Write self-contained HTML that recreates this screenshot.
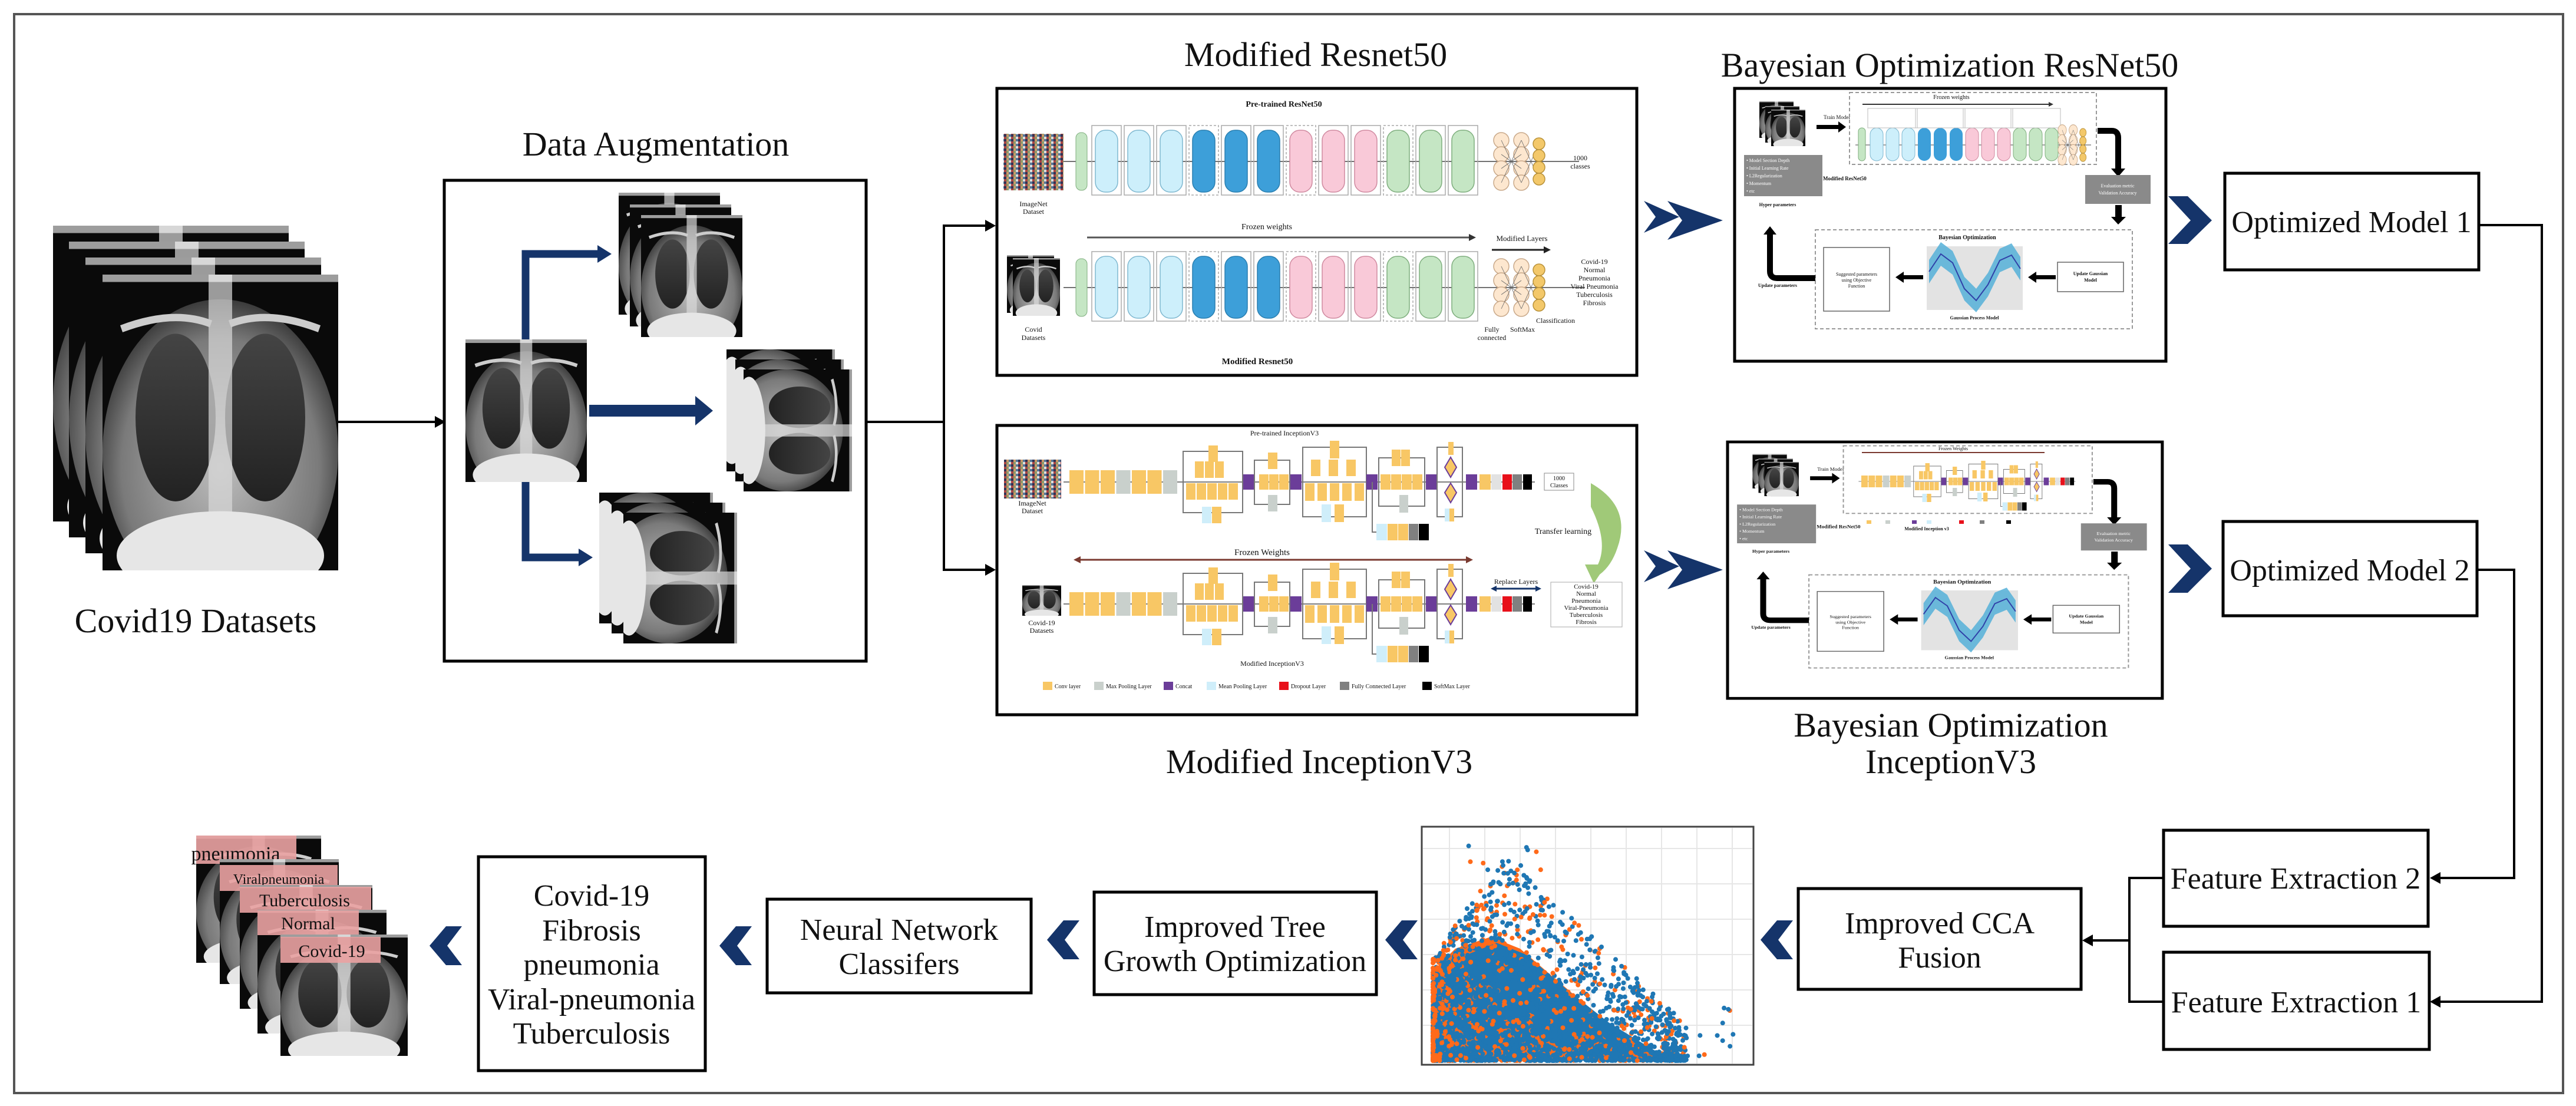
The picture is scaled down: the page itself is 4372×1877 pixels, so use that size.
<!DOCTYPE html>
<html><head><meta charset="utf-8"><style>
html,body{margin:0;padding:0;background:#fff}
svg{display:block;font-family:"Liberation Serif",serif}
text{font-family:"Liberation Serif",serif;fill:#111}
.t{font-size:58px}
.b{font-size:52px}
.s{font-size:12px}
.xs{font-size:9px}
.bd{font-weight:bold}
</style></head><body>
<svg id="sv" width="4372" height="1877" viewBox="0 0 4372 1877" xmlns="http://www.w3.org/2000/svg" font-family="Liberation Serif, serif">
<defs>
<radialGradient id="bodyg" cx="50%" cy="55%" r="60%"><stop offset="0" stop-color="#bdbdbd"/><stop offset="0.7" stop-color="#7a7a7a"/><stop offset="1" stop-color="#222"/></radialGradient>
<linearGradient id="lung" x1="0" y1="0" x2="0" y2="1"><stop offset="0" stop-color="#444"/><stop offset="1" stop-color="#222"/></linearGradient>
<symbol id="xr" viewBox="0 0 100 120" preserveAspectRatio="none">
<rect width="100" height="120" fill="#0a0a0a"/>
<ellipse cx="50" cy="72" rx="50" ry="62" fill="url(#bodyg)"/>
<ellipse cx="31" cy="58" rx="17" ry="34" fill="url(#lung)"/>
<ellipse cx="69" cy="58" rx="17" ry="34" fill="url(#lung)"/>
<rect x="45" y="0" width="10" height="120" fill="#d8d8d8" opacity="0.7"/>
<ellipse cx="50" cy="114" rx="44" ry="18" fill="#e6e6e6"/>
<path d="M8,22 Q30,14 46,20 M92,22 Q70,14 54,20" stroke="#ccc" stroke-width="3" fill="none"/>
<rect x="0" y="0" width="100" height="3" fill="#fff" opacity="0.6"/>
</symbol>
<symbol id="xrr" viewBox="0 0 120 100" preserveAspectRatio="none">
<g transform="translate(120 0) rotate(90)"><use href="#xr" width="100" height="120"/></g>
</symbol>
<pattern id="mos" width="12" height="8" patternUnits="userSpaceOnUse">
<rect width="12" height="8" fill="#6b6b5a"/><rect width="4" height="4" fill="#a44"/><rect x="4" width="4" height="4" fill="#8a9a6a"/><rect x="8" width="4" height="4" fill="#ddd"/><rect y="4" width="4" height="4" fill="#335"/><rect x="4" y="4" width="4" height="4" fill="#c96"/><rect x="8" y="4" width="4" height="4" fill="#579"/>
</pattern>
<g id="incRow">
<line x1="1805" y1="0" x2="2605" y2="0" stroke="#555" stroke-width="1.5"/>
<rect x="1815" y="-20" width="24" height="40" fill="#f8c765"/><rect x="1841.5" y="-20" width="24" height="40" fill="#f8c765"/><rect x="1868" y="-20" width="24" height="40" fill="#f8c765"/><rect x="1894.5" y="-20" width="24" height="40" fill="#c9d0cc"/><rect x="1921" y="-20" width="24" height="40" fill="#f8c765"/><rect x="1947.5" y="-20" width="24" height="40" fill="#f8c765"/><rect x="1974" y="-20" width="24" height="40" fill="#c9d0cc"/>
<rect x="2008" y="-52" width="101" height="104" fill="none" stroke="#777" stroke-width="2"/>
<rect x="2051" y="-62" width="16" height="28" fill="#f8c765"/><rect x="2028" y="-35" width="15" height="28" fill="#f8c765"/><rect x="2045" y="-35" width="15" height="28" fill="#f8c765"/><rect x="2062" y="-35" width="15" height="28" fill="#f8c765"/>
<rect x="2013" y="2" width="16" height="28" fill="#f8c765"/><rect x="2031" y="2" width="16" height="28" fill="#f8c765"/><rect x="2049" y="2" width="16" height="28" fill="#f8c765"/><rect x="2067" y="2" width="16" height="28" fill="#f8c765"/><rect x="2085" y="2" width="16" height="28" fill="#f8c765"/>
<rect x="2040" y="42" width="16" height="28" fill="#cfeefa"/><rect x="2057" y="42" width="16" height="28" fill="#f8c765"/>
<rect x="2110" y="-13" width="19" height="26" fill="#6b3d99"/>
<rect x="2129" y="-37" width="60" height="75" fill="none" stroke="#777" stroke-width="2"/>
<rect x="2152" y="-50" width="16" height="28" fill="#f8c765"/><rect x="2137" y="-13" width="16" height="26" fill="#f8c765"/><rect x="2154" y="-13" width="16" height="26" fill="#f8c765"/><rect x="2171" y="-13" width="16" height="26" fill="#f8c765"/><rect x="2152" y="22" width="16" height="28" fill="#c9d0cc"/>
<rect x="2190" y="-13" width="19" height="26" fill="#6b3d99"/>
<rect x="2211" y="-59" width="108" height="118" fill="none" stroke="#777" stroke-width="2"/>
<rect x="2257" y="-70" width="16" height="30" fill="#f8c765"/><rect x="2225" y="-38" width="16" height="28" fill="#f8c765"/><rect x="2255" y="-38" width="16" height="28" fill="#f8c765"/><rect x="2285" y="-38" width="16" height="28" fill="#f8c765"/>
<rect x="2215" y="2" width="16" height="30" fill="#f8c765"/><rect x="2236" y="2" width="16" height="30" fill="#f8c765"/><rect x="2257" y="2" width="16" height="30" fill="#f8c765"/><rect x="2278" y="2" width="16" height="30" fill="#f8c765"/><rect x="2299" y="2" width="16" height="30" fill="#f8c765"/>
<rect x="2243" y="38" width="16" height="30" fill="#cfeefa"/><rect x="2265" y="38" width="16" height="30" fill="#f8c765"/>
<rect x="2319" y="-13" width="19" height="26" fill="#6b3d99"/>
<rect x="2340" y="-41" width="78" height="82" fill="none" stroke="#777" stroke-width="2"/>
<rect x="2362" y="-55" width="15" height="28" fill="#f8c765"/><rect x="2378" y="-55" width="15" height="28" fill="#f8c765"/>
<rect x="2343" y="-13" width="17" height="26" fill="#f8c765"/><rect x="2361" y="-13" width="17" height="26" fill="#f8c765"/><rect x="2379" y="-13" width="17" height="26" fill="#f8c765"/><rect x="2397" y="-13" width="17" height="26" fill="#f8c765"/>
<rect x="2375" y="22" width="15" height="30" fill="#c9d0cc"/>
<rect x="2420" y="-13" width="19" height="26" fill="#6b3d99"/>
<rect x="2439" y="-59" width="43" height="118" fill="none" stroke="#777" stroke-width="2"/>
<rect x="2458" y="-68" width="9" height="22" fill="#f8c765"/>
<polygon points="2462,-42 2472,-25 2462,-8 2452,-25" fill="#f8c765" stroke="#6b3d99" stroke-width="2"/>
<polygon points="2462,2 2472,18 2462,35 2452,18" fill="#f8c765" stroke="#6b3d99" stroke-width="2"/>
<rect x="2452" y="45" width="8" height="22" fill="#cfeefa"/><rect x="2460" y="45" width="8" height="22" fill="#f8c765"/>
<rect x="2488" y="-13" width="19" height="26" fill="#6b3d99"/>
<rect x="2511" y="-13" width="19" height="26" fill="#f8c765"/><rect x="2531" y="-13" width="17" height="26" fill="#e2e2e2"/><rect x="2550" y="-13" width="16" height="26" fill="#e8101a"/><rect x="2567" y="-13" width="16" height="26" fill="#808080"/><rect x="2585" y="-13" width="15" height="26" fill="#000"/>
<path d="M2329,0 V85 H2336" stroke="#777" stroke-width="2" fill="none"/>
<rect x="2336" y="71" width="18" height="28" fill="#cfeefa"/><rect x="2355" y="71" width="17" height="28" fill="#f8c765"/><rect x="2373" y="71" width="17" height="28" fill="#f8c765"/><rect x="2391" y="71" width="16" height="28" fill="#808080"/><rect x="2408" y="71" width="17" height="28" fill="#000"/>
</g>
<g id="nn">
<g fill="#fde7cf" stroke="#c9a98a" stroke-width="1.5">
<circle cx="0" cy="-36" r="13"/><circle cx="0" cy="-12" r="13"/><circle cx="0" cy="12" r="13"/><circle cx="0" cy="36" r="13"/>
<circle cx="34" cy="-36" r="13"/><circle cx="34" cy="-12" r="13"/><circle cx="34" cy="12" r="13"/><circle cx="34" cy="36" r="13"/>
</g>
<g stroke="#666" stroke-width="0.8"><path d="M0,-36 L34,36 M0,36 L34,-36 M0,-12 L34,12 M0,12 L34,-12 M34,-36 L64,30 M34,36 L64,-30"/></g>
<g fill="#f3c86a" stroke="#b9923a" stroke-width="1.5"><circle cx="64" cy="-30" r="10"/><circle cx="64" cy="-10" r="10"/><circle cx="64" cy="10" r="10"/><circle cx="64" cy="30" r="10"/></g>
</g>
<g id="boCommon">
<rect x="0" y="0" width="732" height="463" fill="#fff" stroke="#000" stroke-width="5"/>
<use href="#xr" x="42" y="22" width="58" height="62"/><use href="#xr" x="52" y="30" width="58" height="62"/><use href="#xr" x="62" y="36" width="58" height="62"/>
<text x="151" y="52" style="font-size:9px">Train Model</text>
<rect x="139" y="62" width="38" height="7" fill="#000"/><polygon points="176,56 189,65.5 176,75" fill="#000"/>
<rect x="195" y="7" width="419" height="122" fill="none" stroke="#999" stroke-width="2" stroke-dasharray="6 4"/>
<text x="150" y="156" style="font-size:9px" class="bd">Modified ResNet50</text>
<rect x="16" y="113" width="133" height="70" fill="#8a8a8a"/>
<g style="font-size:8px"><text x="20" y="125" style="fill:#fff">• Model Section Depth</text><text x="20" y="138" style="fill:#fff">• Initial Learning Rate</text><text x="20" y="151" style="fill:#fff">• L2Regularization</text><text x="20" y="164" style="fill:#fff">• Momentum</text><text x="20" y="177" style="fill:#fff">• etc</text></g>
<text x="73" y="200" text-anchor="middle" class="bd" style="font-size:8px">Hyper parameters</text>
<path d="M616,72 H640 Q651,72 651,84 V138" stroke="#000" stroke-width="10" fill="none"/><polygon points="639,136 663,136 651,150" fill="#000"/>
<rect x="595" y="147" width="111" height="49" fill="#8a8a8a"/>
<text x="650" y="168" text-anchor="middle" style="font-size:8px;fill:#fff">Evaluation metric</text><text x="650" y="180" text-anchor="middle" style="font-size:8px;fill:#fff">Validation Accuracy</text>
<rect x="646" y="198" width="11" height="22" fill="#000"/><polygon points="639,218 664,218 651,231" fill="#000"/>
<rect x="137" y="240" width="538" height="168" fill="none" stroke="#999" stroke-width="2" stroke-dasharray="6 4"/>
<text x="395" y="256" text-anchor="middle" class="bd" style="font-size:10px">Bayesian Optimization</text>
<rect x="151" y="270" width="112" height="108" fill="#fff" stroke="#666" stroke-width="1.5"/>
<g text-anchor="middle" style="font-size:8px"><text x="207" y="318">Suggested parameters</text><text x="207" y="328">using Objective</text><text x="207" y="338">Function</text></g>
<rect x="326" y="268" width="163" height="108" fill="#e3e3e3"/>
<polygon points="330,291 350,261 370,276 390,320 410,340 430,313 450,272 470,263 485,286 485,326 470,303 450,312 430,353 410,380 390,360 370,316 350,301 330,331" fill="#55b0d8" opacity="0.85"/>
<polyline points="330,311 350,281 370,296 390,340 410,360 430,333 450,292 470,283 485,306" fill="none" stroke="#3040a8" stroke-width="2"/>
<text x="407" y="392" text-anchor="middle" class="bd" style="font-size:8px">Gaussian Process Model</text>
<rect x="548" y="295" width="112" height="50" fill="#fff" stroke="#666" stroke-width="1.5"/>
<text x="604" y="317" text-anchor="middle" class="bd" style="font-size:8px">Update Gaussian</text><text x="604" y="328" text-anchor="middle" class="bd" style="font-size:8px">Model</text>
<rect x="510" y="317" width="35" height="7" fill="#000"/><polygon points="512,311 498,320.5 512,330" fill="#000"/>
<rect x="285" y="317" width="35" height="7" fill="#000"/><polygon points="287,311 273,320.5 287,330" fill="#000"/>
<path d="M137,322 H72 Q60,322 60,310 V246" stroke="#000" stroke-width="10" fill="none"/><polygon points="49,248 71,248 60,234" fill="#000"/>
<text x="73" y="337" text-anchor="middle" class="bd" style="font-size:8px">Update parameters</text>
</g>
</defs>

<rect x="24" y="24" width="4326" height="1831" fill="none" stroke="#555" stroke-width="4"/>

<use href="#xr" x="90" y="383" width="400" height="502"/>
<use href="#xr" x="117" y="410" width="400" height="502"/>
<use href="#xr" x="145" y="437" width="400" height="502"/>
<use href="#xr" x="174" y="466" width="400" height="502"/>
<text x="332" y="1073" text-anchor="middle" class="t">Covid19 Datasets</text>
<line x1="574" y1="716" x2="742" y2="716" stroke="#000" stroke-width="4"/><polygon points="738,706 756,716 738,726" fill="#000"/>

<text x="1113" y="264" text-anchor="middle" class="t">Data Augmentation</text>
<rect x="754" y="306" width="716" height="816" fill="#fff" stroke="#000" stroke-width="5"/>
<use href="#xr" x="790" y="576" width="206" height="242"/>
<use href="#xr" x="1050" y="327" width="172" height="207"/><use href="#xr" x="1069" y="347" width="172" height="207"/><use href="#xr" x="1088" y="365" width="172" height="207"/>
<use href="#xrr" x="1233" y="593" width="184" height="207"/><use href="#xrr" x="1248" y="610" width="184" height="207"/><use href="#xrr" x="1262" y="627" width="184" height="207"/>
<use href="#xrr" x="1017" y="836" width="193" height="222"/><use href="#xrr" x="1038" y="853" width="193" height="222"/><use href="#xrr" x="1058" y="870" width="193" height="222"/>
<path d="M892,576 V431 H1018" stroke="#15346a" stroke-width="13" fill="none"/><polygon points="1014,416 1038,431 1014,446" fill="#15346a"/>
<path d="M892,818 V946 H985" stroke="#15346a" stroke-width="13" fill="none"/><polygon points="982,931 1006,946 982,961" fill="#15346a"/>
<line x1="1000" y1="697" x2="1185" y2="697" stroke="#15346a" stroke-width="20"/><polygon points="1180,672 1210,697 1180,722" fill="#15346a"/>

<line x1="1470" y1="716" x2="1602" y2="716" stroke="#000" stroke-width="4"/>
<line x1="1602" y1="381" x2="1602" y2="969" stroke="#000" stroke-width="4"/>
<line x1="1600" y1="383" x2="1674" y2="383" stroke="#000" stroke-width="4"/><polygon points="1672,373 1690,383 1672,393" fill="#000"/>
<line x1="1600" y1="967" x2="1674" y2="967" stroke="#000" stroke-width="4"/><polygon points="1672,957 1690,967 1672,977" fill="#000"/>

<text x="2233" y="112" text-anchor="middle" class="t">Modified Resnet50</text>
<rect x="1692" y="150" width="1086" height="487" fill="#fff" stroke="#000" stroke-width="5"/>
<text x="2179" y="181" text-anchor="middle" class="bd" style="font-size:14px">Pre-trained ResNet50</text>
<rect x="1703" y="227" width="102" height="96" fill="url(#mos)"/>
<text x="1754" y="350" text-anchor="middle" class="s">ImageNet</text><text x="1754" y="363" text-anchor="middle" class="s">Dataset</text>
<line x1="1805" y1="274" x2="2680" y2="274" stroke="#444" stroke-width="1.5"/>
<line x1="1805" y1="488" x2="2690" y2="488" stroke="#444" stroke-width="1.5"/>
<g id="rrow">
<rect x="1826" y="225" width="19" height="98" rx="9" fill="#c5e6c4" stroke="#7fae7e"/>
<g fill="none" stroke="#aaa" stroke-width="1.5"><rect x="1853" y="213" width="50" height="118"/><rect x="1908" y="213" width="50" height="118"/><rect x="1963" y="213" width="50" height="118"/><rect x="2018" y="213" width="50" height="118" stroke-dasharray="4 3"/><rect x="2073" y="213" width="50" height="118"/><rect x="2128" y="213" width="50" height="118"/><rect x="2183" y="213" width="50" height="118" stroke-dasharray="4 3"/><rect x="2238" y="213" width="50" height="118"/><rect x="2293" y="213" width="50" height="118"/><rect x="2348" y="213" width="50" height="118" stroke-dasharray="4 3"/><rect x="2403" y="213" width="50" height="118"/><rect x="2458" y="213" width="50" height="118"/></g>
<g stroke-width="1.5">
<rect x="1859" y="221" width="38" height="105" rx="17" fill="#cdeffb" stroke="#7fb8d0"/><rect x="1914" y="221" width="38" height="105" rx="17" fill="#cdeffb" stroke="#7fb8d0"/><rect x="1969" y="221" width="38" height="105" rx="17" fill="#cdeffb" stroke="#7fb8d0"/>
<rect x="2024" y="221" width="38" height="105" rx="17" fill="#3d9fd9" stroke="#2a7fb0"/><rect x="2079" y="221" width="38" height="105" rx="17" fill="#3d9fd9" stroke="#2a7fb0"/><rect x="2134" y="221" width="38" height="105" rx="17" fill="#3d9fd9" stroke="#2a7fb0"/>
<rect x="2189" y="221" width="38" height="105" rx="17" fill="#f9c9d8" stroke="#d08aa0"/><rect x="2244" y="221" width="38" height="105" rx="17" fill="#f9c9d8" stroke="#d08aa0"/><rect x="2299" y="221" width="38" height="105" rx="17" fill="#f9c9d8" stroke="#d08aa0"/>
<rect x="2354" y="221" width="38" height="105" rx="17" fill="#c5e6c4" stroke="#7fae7e"/><rect x="2409" y="221" width="38" height="105" rx="17" fill="#c5e6c4" stroke="#7fae7e"/><rect x="2464" y="221" width="38" height="105" rx="17" fill="#c5e6c4" stroke="#7fae7e"/>
</g>
</g>
<use href="#rrow" y="214"/>
<g transform="translate(2548 274)"><use href="#nn"/></g>
<g transform="translate(2548 488)"><use href="#nn"/></g>
<text x="2682" y="272" text-anchor="middle" class="s">1000</text><text x="2682" y="286" text-anchor="middle" class="s">classes</text>
<text x="2150" y="389" text-anchor="middle" style="font-size:14px">Frozen weights</text>
<line x1="1845" y1="403" x2="2495" y2="403" stroke="#555" stroke-width="3"/><polygon points="2493,397 2505,403 2493,409" fill="#333"/>
<text x="2583" y="409" text-anchor="middle" style="font-size:13px">Modified Layers</text>
<line x1="2532" y1="424" x2="2622" y2="424" stroke="#222" stroke-width="3"/><polygon points="2620,418 2632,424 2620,430" fill="#222"/>
<use href="#xr" x="1709" y="433" width="80" height="98"/><use href="#xr" x="1719" y="438" width="80" height="98"/>
<text x="1754" y="563" text-anchor="middle" class="s">Covid</text><text x="1754" y="577" text-anchor="middle" class="s">Datasets</text>
<g text-anchor="middle" style="font-size:12px"><text x="2706" y="448">Covid-19</text><text x="2706" y="462">Normal</text><text x="2706" y="476">Pneumonia</text><text x="2706" y="490">Viral Pneumonia</text><text x="2706" y="504">Tuberculosis</text><text x="2706" y="518">Fibrosis</text></g>
<text x="2640" y="548" text-anchor="middle" class="s">Classification</text>
<text x="2532" y="563" text-anchor="middle" class="s">Fully</text><text x="2532" y="577" text-anchor="middle" class="s">connected</text>
<text x="2584" y="563" text-anchor="middle" class="s">SoftMax</text>
<text x="2134" y="618" text-anchor="middle" class="bd" style="font-size:15px">Modified Resnet50</text>

<rect x="1692" y="722" width="1086" height="491" fill="#fff" stroke="#000" stroke-width="5"/>
<text x="2180" y="739" text-anchor="middle" style="font-size:12px">Pre-trained InceptionV3</text>
<rect x="1704" y="780" width="97" height="66" fill="url(#mos)"/>
<text x="1752" y="858" text-anchor="middle" class="s">ImageNet</text><text x="1752" y="871" text-anchor="middle" class="s">Dataset</text>
<use href="#incRow" y="818"/>
<rect x="2621" y="803" width="50" height="29" fill="#fff" stroke="#888"/><text x="2646" y="815" text-anchor="middle" style="font-size:10px">1000</text><text x="2646" y="827" text-anchor="middle" style="font-size:10px">Classes</text>
<path d="M2700,820 Q2770,860 2745,930 Q2735,960 2715,975 L2705,990 L2690,958 L2712,958 Q2730,920 2700,860 Z" fill="#8fc060" opacity="0.85"/>
<text x="2653" y="906" text-anchor="middle" style="font-size:14px">Transfer learning</text>
<text x="2142" y="942" text-anchor="middle" style="font-size:15px">Frozen Weights</text>
<line x1="1830" y1="950" x2="2492" y2="950" stroke="#7a3a30" stroke-width="3"/><polygon points="1834,944 1822,950 1834,956" fill="#7a3a30"/><polygon points="2488,944 2500,950 2488,956" fill="#7a3a30"/>
<use href="#xr" x="1735" y="993" width="66" height="52"/>
<text x="1768" y="1061" text-anchor="middle" class="s">Covid-19</text><text x="1768" y="1074" text-anchor="middle" class="s">Datasets</text>
<use href="#incRow" y="1025"/>
<text x="2573" y="991" text-anchor="middle" class="s">Replace Layers</text>
<line x1="2538" y1="999" x2="2608" y2="999" stroke="#15346a" stroke-width="3"/><polygon points="2540,994 2530,999 2540,1004" fill="#15346a"/><polygon points="2606,994 2616,999 2606,1004" fill="#15346a"/>
<rect x="2632" y="988" width="121" height="76" fill="#fff" stroke="#aaa"/>
<g text-anchor="middle" style="font-size:11px"><text x="2692" y="999">Covid-19</text><text x="2692" y="1011">Normal</text><text x="2692" y="1023">Pneumonia</text><text x="2692" y="1035">Viral-Pneumonia</text><text x="2692" y="1047">Tuberculosis</text><text x="2692" y="1059">Fibrosis</text></g>
<text x="2159" y="1130" text-anchor="middle" style="font-size:12px">Modified InceptionV3</text>
<g style="font-size:10px">
<rect x="1770" y="1157" width="16" height="14" fill="#f8c765"/><text x="1790" y="1168">Conv layer</text>
<rect x="1857" y="1157" width="16" height="14" fill="#c9d0cc"/><text x="1877" y="1168">Max Pooling Layer</text>
<rect x="1975" y="1157" width="16" height="14" fill="#6b3d99"/><text x="1995" y="1168">Concat</text>
<rect x="2048" y="1157" width="16" height="14" fill="#cfeefa"/><text x="2068" y="1168">Mean Pooling Layer</text>
<rect x="2171" y="1157" width="16" height="14" fill="#e8101a"/><text x="2191" y="1168">Dropout Layer</text>
<rect x="2274" y="1157" width="16" height="14" fill="#808080"/><text x="2294" y="1168">Fully Connected Layer</text>
<rect x="2414" y="1157" width="16" height="14" fill="#000"/><text x="2434" y="1168">SoftMax Layer</text>
</g>
<text x="2239" y="1312" text-anchor="middle" class="t">Modified InceptionV3</text>

<g fill="#15346a">
<polygon points="2790,341 2850,368 2790,395 2810,368"/><polygon points="2830,341 2924,374 2830,407 2855,374"/>
<polygon points="2790,934 2850,961 2790,988 2810,961"/><polygon points="2830,934 2924,967 2830,1000 2855,967"/>
</g>

<text x="3309" y="130" text-anchor="middle" class="t">Bayesian Optimization ResNet50</text>
<g transform="translate(2944 150)"><use href="#boCommon"/>
<text x="368" y="18" text-anchor="middle" style="font-size:10px">Frozen weights</text>
<line x1="217" y1="27" x2="535" y2="27" stroke="#333" stroke-width="2"/><polygon points="533,23 541,27 533,31" fill="#333"/>
<line x1="205" y1="96" x2="605" y2="96" stroke="#444" stroke-width="1"/>
<rect x="210" y="67" width="12" height="56" rx="6" fill="#c5e6c4" stroke="#7fae7e"/>
<g stroke-width="1"><rect x="230" y="67" width="22" height="56" rx="11" fill="#cdeffb" stroke="#7fb8d0"/><rect x="257" y="67" width="22" height="56" rx="11" fill="#cdeffb" stroke="#7fb8d0"/><rect x="284" y="67" width="22" height="56" rx="11" fill="#cdeffb" stroke="#7fb8d0"/>
<rect x="311" y="67" width="22" height="56" rx="11" fill="#3d9fd9"/><rect x="338" y="67" width="22" height="56" rx="11" fill="#3d9fd9"/><rect x="365" y="67" width="22" height="56" rx="11" fill="#3d9fd9"/>
<rect x="392" y="67" width="22" height="56" rx="11" fill="#f9c9d8" stroke="#d08aa0"/><rect x="419" y="67" width="22" height="56" rx="11" fill="#f9c9d8" stroke="#d08aa0"/><rect x="446" y="67" width="22" height="56" rx="11" fill="#f9c9d8" stroke="#d08aa0"/>
<rect x="473" y="67" width="22" height="56" rx="11" fill="#c5e6c4" stroke="#7fae7e"/><rect x="500" y="67" width="22" height="56" rx="11" fill="#c5e6c4" stroke="#7fae7e"/><rect x="527" y="67" width="22" height="56" rx="11" fill="#c5e6c4" stroke="#7fae7e"/></g>
<g fill="none" stroke="#bbb"><rect x="226" y="34" width="84" height="33"/><rect x="307" y="34" width="84" height="33"/><rect x="388" y="34" width="84" height="33"/><rect x="469" y="34" width="84" height="33"/></g>
<g transform="translate(556 96) scale(0.55 0.7)"><use href="#nn"/></g>
</g>
<g transform="translate(2932 750) scale(1.008 0.94)"><use href="#boCommon"/></g>
<line x1="3160" y1="768" x2="3470" y2="768" stroke="#7a3a30" stroke-width="2"/>
<text x="3315" y="764" text-anchor="middle" style="font-size:8px">Frozen Weights</text>
<g transform="translate(3159 817) scale(0.46 0.5) translate(-1815 0)"><use href="#incRow"/></g>
<g style="font-size:6px"><rect x="3168" y="883" width="8" height="6" fill="#f8c765"/><rect x="3200" y="883" width="8" height="6" fill="#c9d0cc"/><rect x="3245" y="883" width="8" height="6" fill="#6b3d99"/><rect x="3270" y="883" width="8" height="6" fill="#cfeefa"/><rect x="3325" y="883" width="8" height="6" fill="#e8101a"/><rect x="3360" y="883" width="8" height="6" fill="#808080"/><rect x="3405" y="883" width="8" height="6" fill="#000"/></g>
<text x="3270" y="900" text-anchor="middle" class="bd" style="font-size:8px">Modified Inception v3</text>
<text x="3311" y="1250" text-anchor="middle" class="t">Bayesian Optimization</text>
<text x="3311" y="1312" text-anchor="middle" class="t">InceptionV3</text>

<g fill="#15346a">
<polygon points="3680,333 3713,333 3754,374 3713,414 3680,414 3718,374"/>
<polygon points="3680,924 3713,924 3754,965 3713,1006 3680,1006 3718,965"/>
</g>
<rect x="3776" y="294" width="431" height="164" fill="#fff" stroke="#000" stroke-width="5"/>
<text x="3991" y="394" text-anchor="middle" class="b">Optimized Model 1</text>
<rect x="3773" y="885" width="431" height="160" fill="#fff" stroke="#000" stroke-width="5"/>
<text x="3988" y="985" text-anchor="middle" class="b">Optimized Model 2</text>
<path d="M4207,382 H4314 V1700 H4140" stroke="#000" stroke-width="4" fill="none"/><polygon points="4142,1690 4124,1700 4142,1710" fill="#000"/>
<path d="M4204,967 H4267 V1490 H4140" stroke="#000" stroke-width="4" fill="none"/><polygon points="4142,1480 4124,1490 4142,1500" fill="#000"/>
<rect x="3672" y="1409" width="449" height="163" fill="#fff" stroke="#000" stroke-width="5"/>
<text x="3896" y="1508" text-anchor="middle" class="b">Feature Extraction 2</text>
<rect x="3672" y="1616" width="451" height="165" fill="#fff" stroke="#000" stroke-width="5"/>
<text x="3897" y="1718" text-anchor="middle" class="b">Feature Extraction 1</text>
<path d="M3672,1490 H3614 V1700 H3672" stroke="#000" stroke-width="4" fill="none"/>
<line x1="3614" y1="1596" x2="3548" y2="1596" stroke="#000" stroke-width="4"/><polygon points="3552,1586 3534,1596 3552,1606" fill="#000"/>
<rect x="3052" y="1508" width="480" height="171" fill="#fff" stroke="#000" stroke-width="5"/>
<text x="3292" y="1584" text-anchor="middle" class="b">Improved CCA</text>
<text x="3292" y="1642" text-anchor="middle" class="b">Fusion</text>

<g fill="#15346a">
<polygon points="3043,1562 3016,1562 2988,1595 3016,1628 3043,1628 3018,1595"/>
<polygon points="2406,1562 2379,1562 2351,1595 2379,1628 2406,1628 2381,1595"/>
<polygon points="1832,1562 1805,1562 1777,1595 1805,1628 1832,1628 1807,1595"/>
<polygon points="1276,1572 1249,1572 1221,1605 1249,1638 1276,1638 1251,1605"/>
<polygon points="784,1572 757,1572 729,1605 757,1638 784,1638 759,1605"/>
</g>

<rect x="2413" y="1403" width="563" height="404" fill="#fff" stroke="#444" stroke-width="3"/>
<g stroke="#e6e6e6" stroke-width="2">
<line x1="2460" y1="1405" x2="2460" y2="1805"/><line x1="2520" y1="1405" x2="2520" y2="1805"/><line x1="2580" y1="1405" x2="2580" y2="1805"/><line x1="2640" y1="1405" x2="2640" y2="1805"/><line x1="2700" y1="1405" x2="2700" y2="1805"/><line x1="2760" y1="1405" x2="2760" y2="1805"/><line x1="2820" y1="1405" x2="2820" y2="1805"/><line x1="2880" y1="1405" x2="2880" y2="1805"/><line x1="2940" y1="1405" x2="2940" y2="1805"/>
<line x1="2415" y1="1440" x2="2974" y2="1440"/><line x1="2415" y1="1500" x2="2974" y2="1500"/><line x1="2415" y1="1560" x2="2974" y2="1560"/><line x1="2415" y1="1620" x2="2974" y2="1620"/><line x1="2415" y1="1680" x2="2974" y2="1680"/><line x1="2415" y1="1740" x2="2974" y2="1740"/>
</g>
<polygon points="2430,1800 2430,1650 2470,1610 2530,1590 2580,1610 2650,1670 2720,1730 2790,1775 2830,1800" fill="#ff6a1a"/>
<polygon points="2445,1800 2450,1665 2490,1620 2540,1600 2590,1620 2660,1680 2730,1735 2800,1778 2840,1800" fill="#1f77b4"/>
<g id="dots"></g>

<rect x="1857" y="1514" width="479" height="174" fill="#fff" stroke="#000" stroke-width="5"/>
<text x="2096" y="1590" text-anchor="middle" class="b">Improved Tree</text>
<text x="2096" y="1648" text-anchor="middle" class="b">Growth Optimization</text>
<rect x="1302" y="1526" width="448" height="159" fill="#fff" stroke="#000" stroke-width="5"/>
<text x="1526" y="1595" text-anchor="middle" class="b">Neural Network</text>
<text x="1526" y="1653" text-anchor="middle" class="b">Classifers</text>
<rect x="812" y="1454" width="385" height="363" fill="#fff" stroke="#000" stroke-width="5"/>
<g text-anchor="middle" class="b"><text x="1004" y="1537">Covid-19</text><text x="1004" y="1596">Fibrosis</text><text x="1004" y="1654">pneumonia</text><text x="1004" y="1713">Viral-pneumonia</text><text x="1004" y="1771">Tuberculosis</text></g>

<use href="#xr" x="333" y="1418" width="212" height="216"/>
<rect x="333" y="1418" width="170" height="48" fill="#eaa2a2" opacity="0.9"/><text x="400" y="1460" text-anchor="middle" style="font-size:34px">pneumonia</text>
<use href="#xr" x="373" y="1458" width="202" height="212"/>
<rect x="373" y="1468" width="200" height="44" fill="#eaa2a2" opacity="0.9"/><text x="473" y="1500" text-anchor="middle" style="font-size:24px">Viralpneumonia</text>
<use href="#xr" x="407" y="1502" width="225" height="210"/>
<rect x="407" y="1505" width="223" height="44" fill="#eaa2a2" opacity="0.9"/><text x="517" y="1538" text-anchor="middle" style="font-size:30px">Tuberculosis</text>
<use href="#xr" x="437" y="1544" width="219" height="210"/>
<rect x="437" y="1545" width="172" height="42" fill="#eaa2a2" opacity="0.9"/><text x="523" y="1577" text-anchor="middle" style="font-size:30px">Normal</text>
<use href="#xr" x="476" y="1586" width="216" height="206"/>
<rect x="476" y="1590" width="170" height="44" fill="#eaa2a2" opacity="0.9"/><text x="563" y="1624" text-anchor="middle" style="font-size:30px">Covid-19</text>
</svg>
<script>
(function(){
var s=12345;function r(){s=(s*1103515245+12345)%2147483648;return s/2147483648;}
var g=document.getElementById('dots'),h='';
function mh(x){return x<2550?(170+180*(x-2430)/120):Math.max(0,350*(1-(x-2550)/380));}
function add(n,col,pw,hp){for(var i=0;i<n;i++){var x=2432+Math.pow(r(),pw)*430;var m=mh(x);var y=1800-m*Math.pow(r(),hp);h+='<circle cx="'+x.toFixed(1)+'" cy="'+y.toFixed(1)+'" r="4" fill="'+col+'"/>';}}
add(700,'#ff6a1a',2.4,2.2);add(1500,'#1f77b4',1.5,2.0);add(200,'#ff6a1a',4,1.5);
for(var i=0;i<18;i++){var x=2490+r()*140,y=1430+r()*130;h+='<circle cx="'+x+'" cy="'+y+'" r="4" fill="'+(r()<.5?'#ff6a1a':'#1f77b4')+'"/>';}
for(var i=0;i<18;i++){var x=2800+r()*150,y=1710+r()*85;h+='<circle cx="'+x+'" cy="'+y+'" r="4" fill="'+(r()<.3?'#ff6a1a':'#1f77b4')+'"/>';}
g.innerHTML=h;})();
</script>
</body></html>
